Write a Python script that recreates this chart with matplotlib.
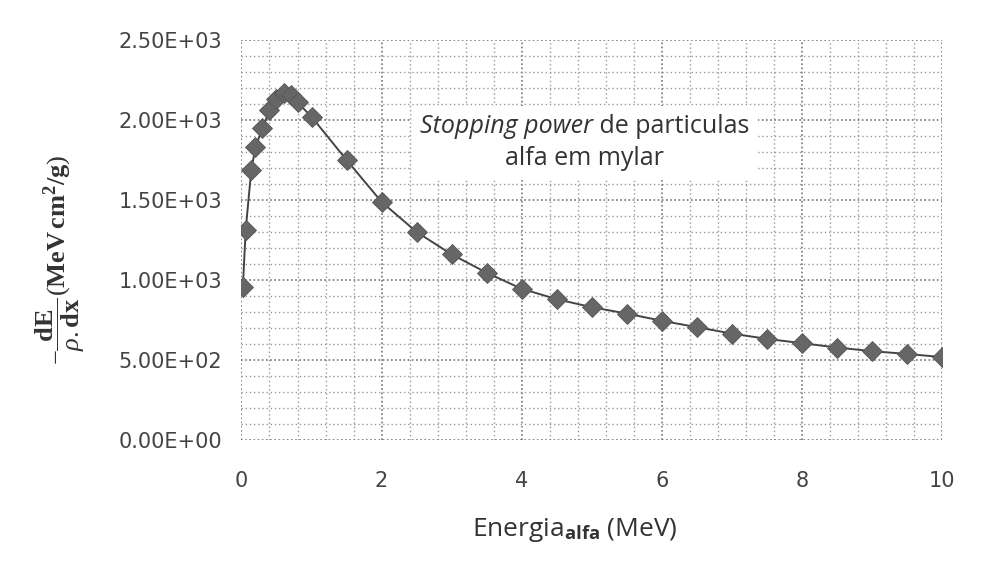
import matplotlib
matplotlib.use("Agg")
import matplotlib.pyplot as plt
from matplotlib.ticker import MultipleLocator, FuncFormatter
from matplotlib.offsetbox import TextArea, HPacker, VPacker, AnnotationBbox

plt.rcParams['mathtext.fontset'] = 'custom'
plt.rcParams['mathtext.rm'] = 'Liberation Serif'
plt.rcParams['mathtext.bf'] = 'Liberation Serif:bold'
plt.rcParams['mathtext.it'] = 'Liberation Serif:italic'
plt.rcParams['mathtext.sf'] = 'Open Sans:bold'

# Data
energia = [0.02, 0.06, 0.14, 0.2, 0.3, 0.4, 0.5, 0.6, 0.7, 0.8, 1.0,
           1.5, 2.0, 2.5, 3.0, 3.5, 4.0, 4.5, 5.0, 5.5, 6.0, 6.5, 7.0,
           7.5, 8.0, 8.5, 9.0, 9.5, 10.0]
stopping = [956, 1312, 1688, 1830, 1950, 2060, 2130, 2170, 2155, 2110, 2020,
            1750, 1488, 1300, 1160, 1045, 945, 880, 830, 790, 745, 705, 665,
            632, 605, 578, 555, 538, 518]

xticks = [0, 2, 4, 6, 8, 10]
yticks = [0, 500, 1000, 1500, 2000, 2500]

fig = plt.figure(figsize=(9.84, 5.63), dpi=100)
ax = fig.add_axes([0.2454, 0.2185, 0.7119, 0.7105])

ax.plot(energia, stopping, color='#444444', lw=1.4, marker='D',
        markersize=10, markerfacecolor='#666666', markeredgecolor='#555555',
        markeredgewidth=0.6, zorder=3)

ax.set_xlim(0, 10)
ax.set_ylim(0, 2500)
ax.set_xticks(xticks)
ax.set_yticks(yticks)
ax.xaxis.set_minor_locator(MultipleLocator(0.4))
ax.yaxis.set_minor_locator(MultipleLocator(100))
ax.yaxis.set_major_formatter(FuncFormatter(lambda v, p: f"{v:.2E}"))

ax.grid(which='major', color='#777777', linestyle=(0, (1, 1.5)), lw=1.2)
ax.grid(which='minor', color='#999999', linestyle=(0, (1, 2)), lw=1.0)
for s in ax.spines.values():
    s.set_visible(False)
ax.tick_params(which='both', length=0)
ax.tick_params(axis='y', pad=14, labelsize=15, labelcolor='#444444')
ax.tick_params(axis='x', pad=22, labelsize=15, labelcolor='#444444')

ax.set_xlabel(r"Energia$_{\mathsf{alfa}}$ (MeV)", fontsize=19,
              family='Open Sans', color='#333333', va='center')
ax.xaxis.set_label_coords(0.476, -0.225)
ax.set_ylabel(r"$-\dfrac{\mathbf{dE}}{\rho.\mathbf{dx}}(\mathbf{MeV\,cm^2/g})$",
              fontsize=19, color='#333333', va='center')
ax.yaxis.set_label_coords(-0.259, 0.45)

tp = dict(family='Open Sans', size=18, color='#333333')
line1 = HPacker(children=[TextArea("Stopping power", textprops=dict(tp, style='italic')),
                          TextArea(" de particulas", textprops=tp)],
                align='baseline', pad=0, sep=0)
line2 = TextArea("alfa em mylar", textprops=tp)
box = VPacker(children=[line1, line2], align='center', pad=0, sep=5)
ab = AnnotationBbox(box, (4.9, 1860), xycoords='data', frameon=True,
                    pad=0.6, bboxprops=dict(facecolor='white', edgecolor='none'),
                    zorder=2)
ax.add_artist(ab)

fig.savefig("out.png", dpi=100, facecolor='white')
